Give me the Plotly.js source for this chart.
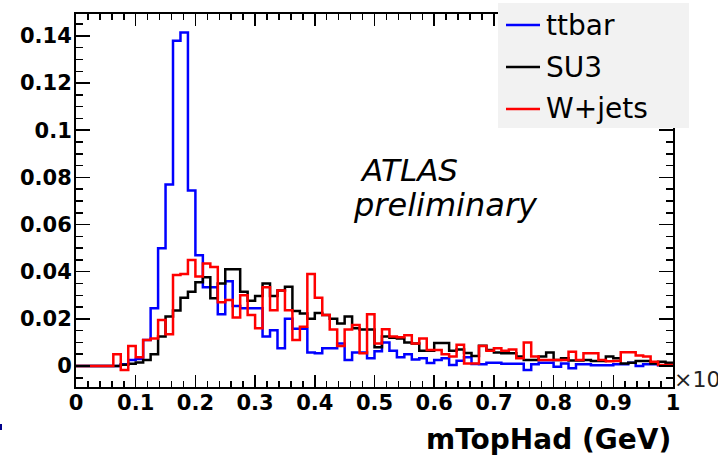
<!DOCTYPE html>
<html>
<head>
<meta charset="utf-8">
<script src="https://cdn.plot.ly/plotly-3.0.1.min.js"></script>
<style>html,body{margin:0;padding:0;background:#fff;}#chart{width:718px;height:457px;}</style>
</head>
<body>
<div id="chart"></div>
<script>
// Histogram binning (80 bins over 0..1, x in units of 10^3 GeV)
const nBins = 80;
const xMin = 0;
const xMax = 1;

// Series values per bin (normalised)
const ttbar = [
  0, 0, 0, 0, 0, 0, 0.0008, 0.0025, 0.003, 0.011,
  0.0245, 0.050, 0.077, 0.138, 0.1415, 0.0744, 0.047, 0.0334, 0.0334, 0.022,
  0.036, 0.0255, 0.0245, 0.0245, 0.0245, 0.0125, 0.0152, 0.0075, 0.020, 0.0158,
  0.0158, 0.0057, 0.0054, 0.0075, 0.0075, 0.0096, 0.0025, 0.0057, 0.0057, 0.0033,
  0.0063, 0.0100, 0.0065, 0.0037, 0.0050, 0.0028, 0.0033, 0.0013, 0.0025, 0.0033,
  0.0004, 0.0022, 0.0037, 0.0009, 0.0008, 0.0014, 0.0014, 0.0010, 0.0010, 0.0010,
  -0.0017, 0.0008, 0.0014, 0.0014, -0.0003, 0.0011, -0.0010, 0.0008, 0.0008, 0.0003,
  0.0003, 0.0003, 0.0008, 0.0008, 0.0014, 0.0000, 0.0008, 0.0008, 0.0003, 0.0003
];
const su3 = [
  0, 0, 0, 0, 0, 0, 0.0005, 0.001, 0.0015, 0.0025,
  0.005, 0.0125, 0.021, 0.0235, 0.029, 0.0315, 0.0355, 0.0376, 0.0287, 0.035,
  0.041, 0.041, 0.0315, 0.0277, 0.0297, 0.035, 0.0297, 0.032, 0.0336, 0.0233,
  0.0223, 0.020, 0.0225, 0.0216, 0.020, 0.018, 0.021, 0.016, 0.0155, 0.0155,
  0.008, 0.0125, 0.012, 0.0117, 0.010, 0.0095, 0.0065, 0.0065, 0.0098, 0.0098,
  0.0065, 0.007, 0.0055, 0.0042, 0.0086, 0.0068, 0.0057, 0.0054, 0.0054, 0.004,
  0.0025, 0.0025, 0.004, 0.0057, 0.0025, 0.0033, 0.0023, 0.0023, 0.0025, 0.0021,
  0.0021, 0.004, 0.0033, 0.0011, 0.0014, 0.0021, 0.0021, 0.0011, 0.0018, 0.0014
];
const wjets = [
  0, 0, 0, 0, 0, 0.005, -0.0017, 0.0085, 0.0037, 0.011,
  0.0117, 0.0195, 0.0135, 0.0386, 0.039, 0.045, 0.038, 0.0435, 0.042, 0.027,
  0.028, 0.0206, 0.030, 0.0216, 0.016, 0.0334, 0.0237, 0.032, 0.0237, 0.011,
  0.0167, 0.039, 0.029, 0.0216, 0.0155, 0.0085, 0.0155, 0.0174, 0.0054, 0.022,
  0.0096, 0.0156, 0.0125, 0.0122, 0.0130, 0.0096, 0.0117, 0.0068, 0.0068, 0.005,
  0.004, 0.009, 0.0011, 0.0011, 0.0085, 0.0065, 0.0075, 0.0065, 0.007, 0.0033,
  0.010, 0.004, 0.0025, 0.0025, 0.0025, 0.0025, 0.006, 0.0025, 0.0054, 0.0054,
  0.0025, 0.002, 0.0021, 0.0058, 0.0058, 0.0045, 0.004, 0.0018, 0.0004, 0.0004
];

const seriesNames = ["ttbar", "SU3", "W+jets"];
const seriesColors = ["#0000ff", "#000000", "#ff0000"];

const xTickVals = [0, 0.1, 0.2, 0.3, 0.4, 0.5, 0.6, 0.7, 0.8, 0.9, 1];
const xTickText = ["0", "0.1", "0.2", "0.3", "0.4", "0.5", "0.6", "0.7", "0.8", "0.9", "1"];
const yTickVals = [0, 0.02, 0.04, 0.06, 0.08, 0.1, 0.12, 0.14];
const yTickText = ["0", "0.02", "0.04", "0.06", "0.08", "0.1", "0.12", "0.14"];

const xTitle = "mTopHad (GeV)";
const atlasText = ["ATLAS", "preliminary"];

// bin edges
const binW = (xMax - xMin) / nBins;
const edges = [];
for (let i = 0; i <= nBins; i++) edges.push(xMin + i * binW);

function stepTrace(vals, name, color) {
  return {
    type: "scatter",
    mode: "lines",
    name: name,
    x: edges,
    y: vals.concat([vals[vals.length - 1]]),
    line: { shape: "hv", color: color, width: 2.5 },
    hoverinfo: "skip"
  };
}

const data = [
  stepTrace(ttbar, seriesNames[0], seriesColors[0]),
  stepTrace(su3, seriesNames[1], seriesColors[1]),
  stepTrace(wjets, seriesNames[2], seriesColors[2])
];

const FONT = "DejaVu Sans, Liberation Sans, Arial, sans-serif";
const W = 718, H = 457;
const M = { l: 76, r: 45, t: 14, b: 70 };
const pw = W - M.l - M.r, ph = H - M.t - M.b;
const px2x = p => (p - M.l) / pw;
const py2y = p => (H - M.b - p) / ph;

const shapes = [
  { type: "rect", xref: "paper", yref: "paper", layer: "above",
    x0: px2x(498), x1: px2x(689), y0: py2y(128), y1: py2y(3),
    fillcolor: "#f2f2f2", line: { width: 0 } },
  { type: "line", xref: "paper", yref: "paper",
    x0: px2x(1), x1: px2x(1), y0: py2y(424), y1: py2y(430),
    line: { color: "#00008b", width: 2 } }
];
const annotations = [
  { text: atlasText[0], xref: "paper", yref: "paper", x: px2x(358), y: py2y(170),
    xanchor: "left", yanchor: "middle", showarrow: false,
    font: { family: FONT, size: 31, color: "#000", style: "italic" } },
  { text: atlasText[1], xref: "paper", yref: "paper", x: px2x(351), y: py2y(205),
    xanchor: "left", yanchor: "middle", showarrow: false,
    font: { family: FONT, size: 32, color: "#000", style: "italic" } },
  { text: xTitle, xref: "paper", yref: "paper", x: 1, y: py2y(439),
    xanchor: "right", yanchor: "middle", showarrow: false,
    font: { family: FONT, size: 28, color: "#000", weight: "bold" } },
  { text: "×10<sup>3</sup>", xref: "paper", yref: "paper", x: px2x(672), y: py2y(378),
    xanchor: "left", yanchor: "middle", showarrow: false,
    font: { family: FONT, size: 22, color: "#222" } }
];

// legend entries (drawn inside the grey box)
const legendRowsPx = [25, 67, 109];
seriesNames.forEach((name, i) => {
  shapes.push({ type: "line", xref: "paper", yref: "paper", layer: "above",
    x0: px2x(506), x1: px2x(540), y0: py2y(legendRowsPx[i]), y1: py2y(legendRowsPx[i]),
    line: { color: seriesColors[i], width: 2.5 } });
  annotations.push({ text: name, xref: "paper", yref: "paper",
    x: px2x(544), y: py2y(legendRowsPx[i]), xanchor: "left", yanchor: "middle",
    showarrow: false, font: { family: FONT, size: 28, color: "#000" } });
});

const layout = {
  width: W, height: H,
  margin: M,
  paper_bgcolor: "#ffffff",
  plot_bgcolor: "#ffffff",
  showlegend: false,
  xaxis: {
    range: [xMin, xMax],
    showgrid: false, zeroline: false,
    showline: true, linecolor: "#000", linewidth: 2,
    mirror: "ticks",
    ticks: "inside", ticklen: 12, tickwidth: 1.5, tickcolor: "#000",
    tickvals: xTickVals, ticktext: xTickText,
    ticklabelstandoff: -4,
    tickfont: { family: FONT, size: 21, color: "#000", weight: "bold" },
    minor: { ticks: "inside", ticklen: 6, tickwidth: 1.5, tickcolor: "#000", dtick: 0.02, showgrid: false }
  },
  yaxis: {
    range: [-0.0089, 0.1493],
    showgrid: false, zeroline: false,
    showline: true, linecolor: "#000", linewidth: 2,
    mirror: "ticks",
    ticks: "inside", ticklen: 14, tickwidth: 1.5, tickcolor: "#000",
    tickvals: yTickVals, ticktext: yTickText,
    ticklabelstandoff: -2,
    tickfont: { family: FONT, size: 21, color: "#000", weight: "bold" },
    minor: { ticks: "inside", ticklen: 7, tickwidth: 1.5, tickcolor: "#000", dtick: 0.005, tick0: 0, showgrid: false }
  },
  shapes: shapes,
  annotations: annotations
};

Plotly.newPlot("chart", data, layout, { staticPlot: true, displayModeBar: false });
</script>
</body>
</html>
